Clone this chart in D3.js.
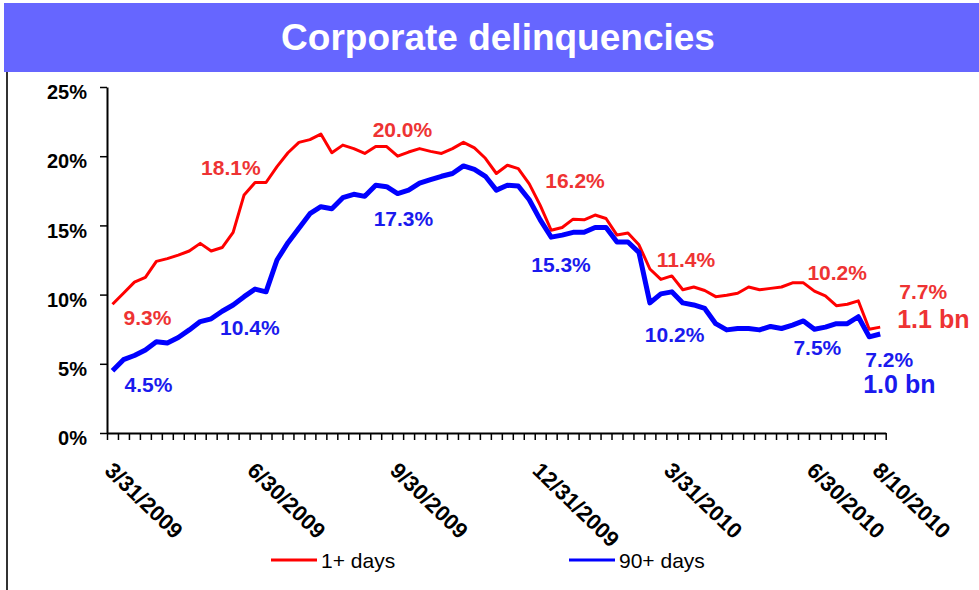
<!DOCTYPE html>
<html>
<head>
<meta charset="utf-8">
<script src="https://cdn.jsdelivr.net/npm/d3@7"></script>
<style>
  body { margin: 0; background: #fff; }
  svg { display: block; font-family: "Liberation Sans", Arial, sans-serif; }
</style>
</head>
<body>
<div id="chart"></div>
<script>
// weekly readings, 3/31/2009 .. 8/10/2010
const days1 = [9.3, 10.1, 10.9, 11.25, 12.4, 12.6, 12.85, 13.15, 13.7, 13.15,
  13.4, 14.5, 17.2, 18.1, 18.1, 19.25, 20.25, 21.0, 21.2, 21.6,
  20.25, 20.8, 20.55, 20.2, 20.7, 20.7, 20.0, 20.3, 20.55, 20.35,
  20.2, 20.55, 21.0, 20.6, 19.85, 18.75, 19.35, 19.1, 18.0, 16.45,
  14.65, 14.85, 15.45, 15.4, 15.75, 15.5, 14.3, 14.45, 13.6, 11.85,
  11.1, 11.35, 10.35, 10.55, 10.3, 9.85, 9.95, 10.1, 10.55, 10.35,
  10.45, 10.55, 10.85, 10.85, 10.25, 9.9, 9.2, 9.3, 9.55, 7.5, 7.65];

const days90 = [4.5, 5.3, 5.6, 6.0, 6.6, 6.5, 6.9, 7.45, 8.05, 8.25,
  8.8, 9.25, 9.85, 10.4, 10.2, 12.5, 13.75, 14.8, 15.85, 16.35,
  16.2, 17.0, 17.25, 17.1, 17.9, 17.8, 17.3, 17.55, 18.05, 18.3,
  18.55, 18.75, 19.3, 19.05, 18.55, 17.55, 17.9, 17.85, 16.85, 15.4,
  14.15, 14.3, 14.5, 14.5, 14.85, 14.85, 13.8, 13.8, 13.05, 9.4,
  10.05, 10.2, 9.4, 9.25, 9.0, 7.9, 7.45, 7.55, 7.55, 7.45,
  7.7, 7.55, 7.8, 8.1, 7.5, 7.65, 7.9, 7.9, 8.4, 6.95, 7.15];

const tickIdx = [0, 13, 26, 39, 51, 64, 70];
const tickLabels = ["3/31/2009", "6/30/2009", "9/30/2009", "12/31/2009", "3/31/2010", "6/30/2010", "8/10/2010"];

const labels1 = ["9.3%", "18.1%", "20.0%", "16.2%", "11.4%", "10.2%", "7.7%"];
const labels90 = ["4.5%", "10.4%", "17.3%", "15.3%", "10.2%", "7.5%", "7.2%"];
const totals = ["1.1 bn", "1.0 bn"];

const yTicks = [0, 5, 10, 15, 20, 25];

const W = 979, H = 590;
const svg = d3.select("#chart").append("svg").attr("width", W).attr("height", H);

// title bar
svg.append("rect").attr("x", 4).attr("y", 3).attr("width", W - 4).attr("height", 69).attr("fill", "#6666ff");
svg.append("text").attr("x", 498).attr("y", 50).attr("text-anchor", "middle")
  .attr("fill", "#fff").attr("font-weight", "bold").attr("font-size", 37)
  .text("Corporate delinquencies");
svg.append("line").attr("x1", 7).attr("x2", 7).attr("y1", 72).attr("y2", H)
  .attr("stroke", "#333").attr("stroke-width", 2);

const n = days1.length;
const xb = d3.scaleLinear().domain([0, n]).range([107, 885.7]);
const cx = i => xb(i + 0.5);
const y = d3.scaleLinear().domain([0, 25]).range([433, 87]);

// axes
const gy = svg.append("g").attr("transform", "translate(107,0)")
  .call(d3.axisLeft(y).tickValues(yTicks).tickFormat(d => d + "%").tickSize(7).tickSizeOuter(0));
gy.select(".domain").attr("stroke-width", 2);
gy.selectAll(".tick line").attr("stroke-width", 1.5);
gy.selectAll(".tick text").attr("x", -20).attr("dy", "0.58em")
  .attr("font-size", 20).attr("font-weight", "bold").attr("font-family", "Liberation Sans, Arial, sans-serif").attr("fill", "#000");

const gx = svg.append("g").attr("transform", "translate(0,433)")
  .call(d3.axisBottom(xb).tickValues(d3.range(n + 1)).tickFormat("").tickSize(7).tickSizeOuter(0));
gx.select(".domain").attr("stroke-width", 2);
gx.selectAll(".tick line").attr("stroke-width", 1.5);

svg.append("g").selectAll("text").data(tickIdx).join("text")
  .attr("transform", d => `translate(${cx(d) - 9},472) rotate(44)`)
  .attr("font-size", 22).attr("font-weight", "bold").attr("fill", "#000")
  .text((d, k) => tickLabels[k]);

// lines
const line = d3.line().x((d, i) => cx(i)).y(d => y(d));
svg.append("path").datum(days1).attr("d", line).attr("fill", "none")
  .attr("stroke", "#ff0000").attr("stroke-width", 3).attr("stroke-linejoin", "round");
svg.append("path").datum(days90).attr("d", line).attr("fill", "none")
  .attr("stroke", "#0000ff").attr("stroke-width", 5).attr("stroke-linejoin", "round");

// data labels (offsets from the point they describe)
const off1 = [[11, 21], [-54, -7], [-25, -19], [5, -17], [-15, -9], [-7, -11], [19, -28]];
const off90 = [[12, 21], [-35, 46], [-24, 32], [-9, 52], [-27, 50], [-21, 26], [-15, 33]];

svg.append("g").selectAll("text").data(tickIdx).join("text")
  .attr("x", (d, k) => cx(d) + off1[k][0]).attr("y", (d, k) => y(days1[d]) + off1[k][1])
  .attr("font-size", 21).attr("font-weight", "bold").attr("fill", "#ee3333")
  .text((d, k) => labels1[k]);
svg.append("g").selectAll("text").data(tickIdx).join("text")
  .attr("x", (d, k) => cx(d) + off90[k][0]).attr("y", (d, k) => y(days90[d]) + off90[k][1])
  .attr("font-size", 21).attr("font-weight", "bold").attr("fill", "#1a1aee")
  .text((d, k) => labels90[k]);

svg.append("text").attr("x", cx(n - 1) + 17).attr("y", y(days1[n - 1]) + 1)
  .attr("font-size", 25).attr("font-weight", "bold").attr("fill", "#ee3333").text(totals[0]);
svg.append("text").attr("x", cx(n - 1) - 17).attr("y", y(days90[n - 1]) + 59)
  .attr("font-size", 25).attr("font-weight", "bold").attr("fill", "#1a1aee").text(totals[1]);

// legend
const legend = [{ name: "1+ days", color: "#ff0000", x: 271 }, { name: "90+ days", color: "#0000ff", x: 569 }];
const lg = svg.append("g").selectAll("g").data(legend).join("g")
  .attr("transform", d => `translate(${d.x},560)`);
lg.append("line").attr("x1", 0).attr("x2", 46).attr("stroke", d => d.color).attr("stroke-width", 3);
lg.append("text").attr("x", 50).attr("y", 8).attr("font-size", 21).attr("fill", "#000").text(d => d.name);
</script>
</body>
</html>
